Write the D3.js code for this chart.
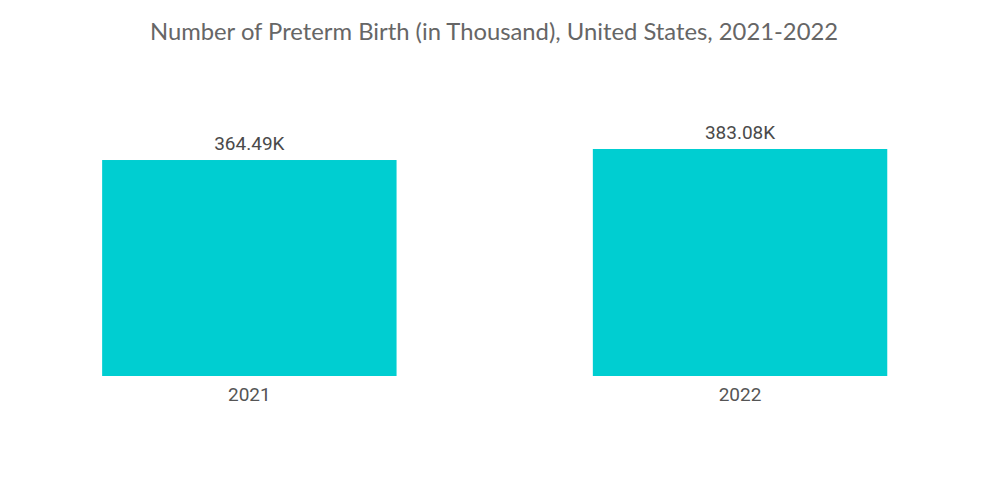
<!DOCTYPE html>
<html>
<head>
<meta charset="utf-8">
<script src="https://cdn.jsdelivr.net/npm/d3@7"></script>
<style>
  body { margin: 0; background: #fff; }
  text { font-family: Roboto, "Open Sans", sans-serif; }
</style>
</head>
<body>
<div id="chart"></div>
<script>
const years = ["2021", "2022"];
const births = [364.49, 383.08];
const valueLabels = ["364.49K", "383.08K"];

const width = 1000;
const height = 504;

const svg = d3.select("#chart")
  .append("svg")
  .attr("width", width)
  .attr("height", height);

// title
svg.append("text")
  .attr("x", 494)
  .attr("y", 40)
  .attr("text-anchor", "middle")
  .attr("font-size", "23.8px")
  .attr("fill", "#666")
  .style("font-family", "Lato, sans-serif")
  .text("Number of Preterm Birth (in Thousand), United States, 2021-2022");

const x = d3.scaleBand()
  .domain(years)
  .range([4, 985.4])
  .paddingInner(0.4)
  .paddingOuter(0.2);

const y = d3.scaleLinear()
  .domain([0, 383.08])
  .range([376, 149]);

const data = years.map((yr, i) => ({ year: yr, value: births[i], label: valueLabels[i] }));

svg.append("g")
  .selectAll("rect")
  .data(data)
  .join("rect")
  .attr("x", d => x(d.year))
  .attr("y", d => y(d.value))
  .attr("width", x.bandwidth())
  .attr("height", d => y(0) - y(d.value))
  .attr("fill", "#00ced1");

// value labels over bars
svg.append("g")
  .selectAll("text")
  .data(data)
  .join("text")
  .attr("x", d => x(d.year) + x.bandwidth() / 2)
  .attr("y", d => y(d.value) - 10)
  .attr("text-anchor", "middle")
  .attr("font-size", "19px")
  .attr("fill", "#4a4a4a")
  .text(d => d.label);

// x axis, no line, no ticks
const xAxis = svg.append("g")
  .attr("transform", `translate(0,${y(0)})`)
  .call(d3.axisBottom(x).tickSize(0).tickPadding(12));
xAxis.select(".domain").remove();
xAxis.selectAll("text")
  .attr("font-size", "19px")
  .attr("fill", "#555")
  .style("font-family", "Roboto, sans-serif");
</script>
</body>
</html>
